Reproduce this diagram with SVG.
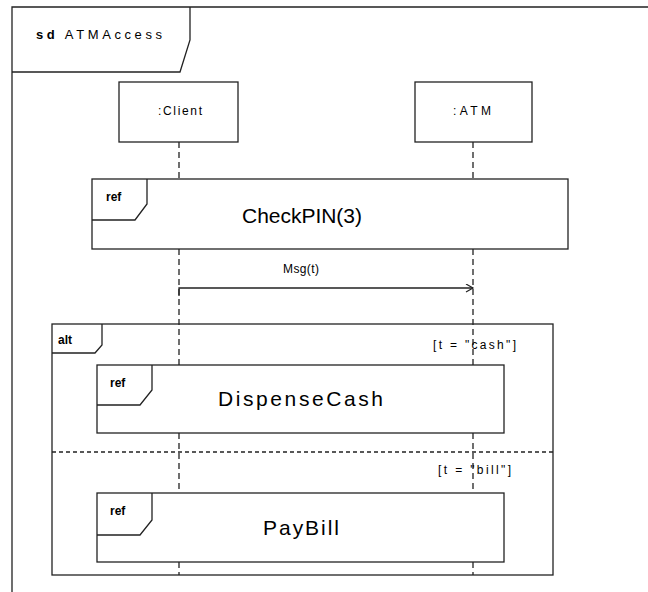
<svg xmlns="http://www.w3.org/2000/svg" width="648" height="592" viewBox="0 0 648 592">
<style>
.ln{fill:none;stroke:#222;stroke-width:1.3}
.box{fill:#fff;stroke:#222;stroke-width:1.3}
.ll{fill:none;stroke:#222;stroke-width:1.3;stroke-dasharray:6 4}
.t{font-family:"Liberation Sans",Arial,sans-serif;fill:#000}
.s{font-size:12px}
.b{font-weight:bold;font-size:12px}
.big{font-size:21px}
</style>
<defs>
<marker id="open" markerWidth="10" markerHeight="10" refX="8" refY="4" orient="auto" markerUnits="userSpaceOnUse">
<path d="M1,0 L8,4 L1,8" fill="none" stroke="#222" stroke-width="1.2"/>
</marker>
</defs>
<rect width="648" height="592" fill="#fff"/>
<g id="frame">
<path class="ln" d="M12,600 L12,7 L660,7"/>
<path class="ln" d="M12,72 L180,72 L190,40 L190,7"/>
<text class="t" x="36" y="39" font-size="13" textLength="126" lengthAdjust="spacing"><tspan font-weight="bold">sd</tspan> ATMAccess</text>
</g>
<g id="connectors">
<path class="ll" d="M179,142 V178"/>
<path class="ll" d="M179,249 V365"/>
<path class="ll" d="M179,433 V493"/>
<path class="ll" d="M179,562 V575"/>
<path class="ll" d="M473,142 V178"/>
<path class="ll" d="M473,249 V365"/>
<path class="ll" d="M473,433 V493"/>
<path class="ll" d="M473,562 V575"/>
<path class="ln" d="M179,296 V288 H473" marker-end="url(#open)"/>
<text class="t s" x="283" y="273" textLength="36" lengthAdjust="spacing">Msg(t)</text>
</g>
<g id="client">
<rect class="box" x="119" y="82" width="119" height="60"/>
<text class="t s" x="158" y="115" textLength="44" lengthAdjust="spacing">:Client</text>
</g>
<g id="atm">
<rect class="box" x="415" y="82" width="117" height="60"/>
<text class="t s" x="453" y="115" textLength="38" lengthAdjust="spacing">:ATM</text>
</g>
<g id="checkpin">
<rect class="box" x="92" y="179" width="476" height="70"/>
<path class="ln" d="M92,220 L135,220 L147,204 L147,179"/>
<text class="t b" x="106" y="201">ref</text>
<text class="t big" x="242" y="223" textLength="120" lengthAdjust="spacing">CheckPIN(3)</text>
</g>
<g id="alt">
<rect class="ln" x="52" y="324" width="501" height="251"/>
<path class="ln" d="M52,353 L95,353 L102,345 L102,324"/>
<text class="t b" x="58" y="344">alt</text>
<path class="ln" d="M52,452 H553" stroke-dasharray="4 3"/>
<text class="t s" x="433" y="349" textLength="83" lengthAdjust="spacing">[t = "cash"]</text>
<text class="t s" x="438" y="474" textLength="73" lengthAdjust="spacing">[t = "bill"]</text>
</g>
<g id="dispensecash">
<rect class="box" x="97" y="365" width="407" height="68"/>
<path class="ln" d="M97,405 L140,405 L152,390 L152,365"/>
<text class="t b" x="110" y="387">ref</text>
<text class="t big" x="218" y="406" textLength="165" lengthAdjust="spacing">DispenseCash</text>
</g>
<g id="paybill">
<rect class="box" x="97" y="493" width="407" height="69"/>
<path class="ln" d="M97,535 L140,535 L152,520 L152,493"/>
<text class="t b" x="110" y="515">ref</text>
<text class="t big" x="263" y="535" textLength="76" lengthAdjust="spacing">PayBill</text>
</g>
</svg>
